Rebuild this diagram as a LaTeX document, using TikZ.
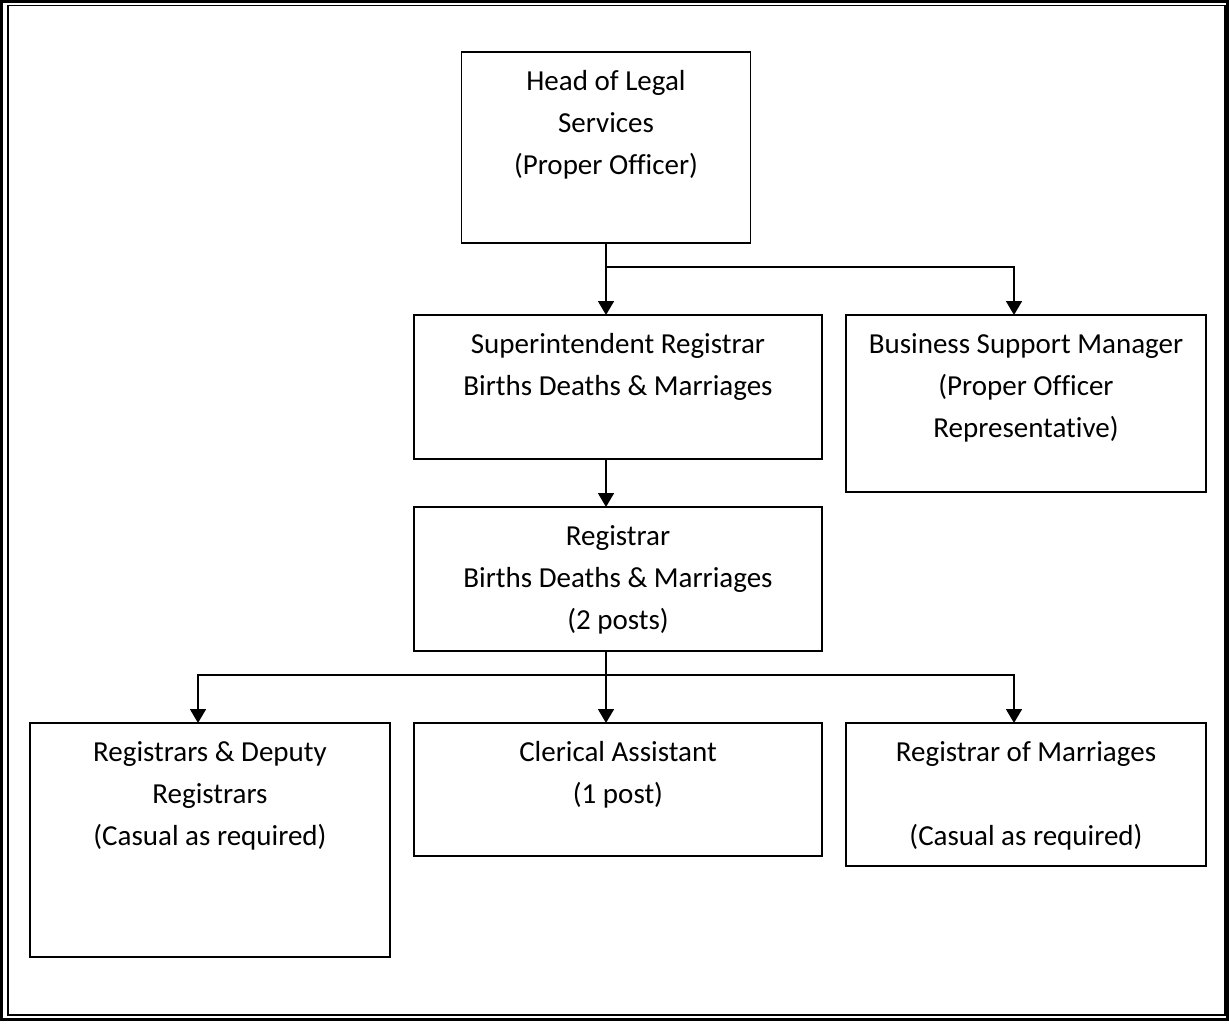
\documentclass[tikz,border=0pt]{standalone}
\usepackage{fontspec}
\setmainfont[Ligatures=NoCommon]{Carlito}
\usetikzlibrary{arrows.meta,calc}
\begin{document}
\begin{tikzpicture}[x=1pt,y=-1pt,
  box/.style={draw,line width=1.7pt,rectangle,inner sep=0pt,outer sep=0pt},
  lbl/.style={anchor=north,inner sep=0pt,align=center,font=\fontsize{29}{42}\selectfont},
  conn/.style={line width=1.8pt},
  arr/.style={conn,-{Triangle[width=16pt,length=14pt]}}]
\useasboundingbox (0,0) rectangle (1229,1025);
% page border
\draw[line width=2.6pt] (1.8,1.8) rectangle (1227.4,1019.4);
\draw[line width=1.6pt] (8,5.6) rectangle (1224.8,1015);
% boxes
\node[box,minimum width=289pt,minimum height=191pt] (head) at (606,147.5) {};
\node[box,minimum width=408pt,minimum height=144pt] (sup) at (618,387) {};
\node[box,minimum width=360pt,minimum height=177pt] (bus) at (1026,403.5) {};
\node[box,minimum width=408pt,minimum height=144pt] (reg) at (618,579) {};
\node[box,minimum width=360pt,minimum height=234pt] (dep) at (210,840) {};
\node[box,minimum width=408pt,minimum height=133pt] (cler) at (618,789.5) {};
\node[box,minimum width=360pt,minimum height=143pt] (mar) at (1026,794.5) {};
% texts
\newcommand{\fs}{\rule{0pt}{30pt}}
\node[lbl] (thead) at ($(head.north)+(0,8.5)$) {\fs Head of Legal\\Services\\(Proper Officer)};
\node[lbl] (tsup) at ($(sup.north)+(0,8.5)$) {\fs Superintendent Registrar\\Births Deaths \& Marriages};
\node[lbl] (tbus) at ($(bus.north)+(0,8.5)$) {\fs Business Support Manager\\(Proper Officer\\Representative)};
\node[lbl] (treg) at ($(reg.north)+(0,8.5)$) {\fs Registrar\\Births Deaths \& Marriages\\(2 posts)};
\node[lbl] (tdep) at ($(dep.north)+(0,8.5)$) {\fs Registrars \& Deputy\\Registrars\\(Casual as required)};
\node[lbl] (tcler) at ($(cler.north)+(0,8.5)$) {\fs Clerical Assistant\\(1 post)};
\node[lbl] (tmar) at ($(mar.north)+(0,8.5)$) {\fs Registrar of Marriages\\[42pt](Casual as required)};
% connectors
\coordinate (j1) at ($(head.south)+(0,24)$);
\coordinate (j2) at ($(reg.south)+(-12,24)$);
\draw[arr] (head.south) -- (head.south |- sup.north);
\draw[arr] (j1) -| ($(bus.north)+(-12,0)$);
\draw[arr] ($(sup.south)+(-12,0)$) -- ($(reg.north)+(-12,0)$);
\draw[conn] ($(reg.south)+(-12,0)$) -- (j2);
\draw[arr] (j2) -| ($(dep.north)+(-12,0)$);
\draw[arr] (j2) -| ($(mar.north)+(-12,0)$);
\draw[arr] (j2) -- ($(cler.north)+(-12,0)$);
\end{tikzpicture}
\end{document}
